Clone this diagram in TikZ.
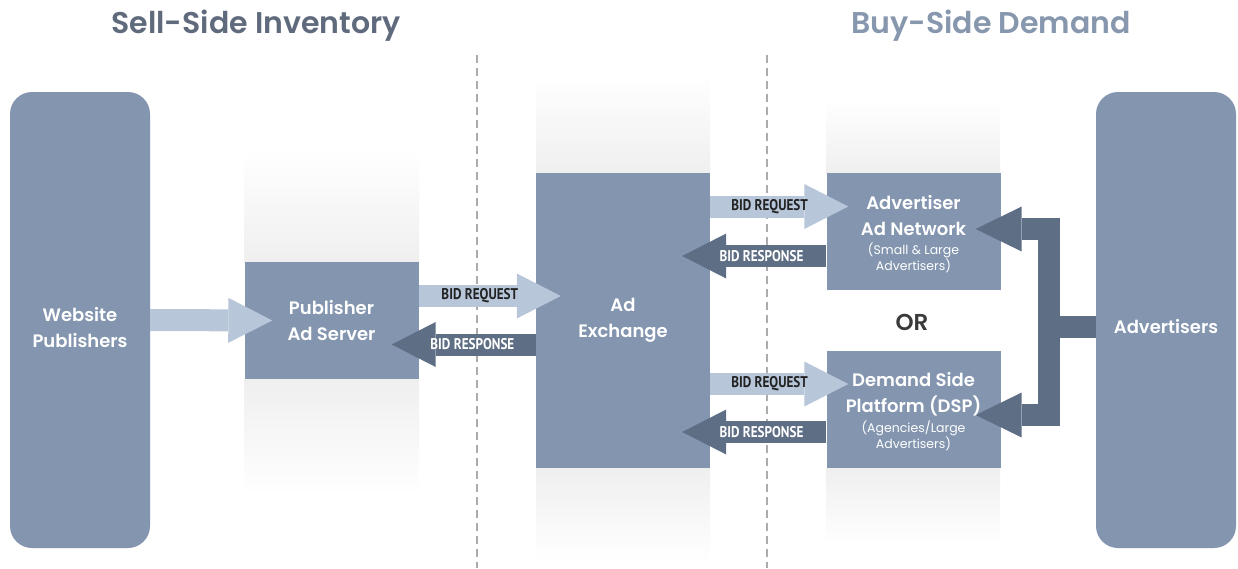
\documentclass[tikz,border=0pt]{standalone}
\usepackage{fontspec}
\setmainfont{Poppins}[BoldFont={Poppins SemiBold}]
\newfontfamily\bidfont{PT Sans}[FakeStretch=0.85]
\usetikzlibrary{arrows.meta,positioning}

\definecolor{boxblue}{HTML}{8395AF}
\definecolor{reqblue}{HTML}{B7C6D9}
\definecolor{respslate}{HTML}{5E6E84}
\definecolor{bandgray}{HTML}{EFEFEF}
\definecolor{sellgray}{HTML}{5F6B7D}
\definecolor{buyblue}{HTML}{8797AE}
\definecolor{dashgray}{HTML}{ABABAB}
\definecolor{bidtext}{HTML}{222222}
\definecolor{ortext}{HTML}{3A3A3A}

\tikzset{
    endbox/.style={fill=boxblue, rounded corners=22pt, minimum width=140pt, minimum height=456pt},
    midbox/.style={fill=boxblue, minimum width=174pt, minimum height=117pt, inner sep=0pt,
        text=white, align=center, font=\bfseries\fontsize{18}{26}\selectfont},
    boxtext/.style={text=white, align=center, font=\bfseries\fontsize{18}{26}\selectfont},
    subtext/.style={text=white, align=center, font=\fontsize{12.5}{15.5}\selectfont},
    headtext/.style={font=\bfseries\fontsize{30}{30}\selectfont},
    ortext/.style={text=ortext, font=\bfseries\fontsize{23}{23}\selectfont},
    divider/.style={draw=dashgray, line width=1.8pt, dash pattern=on 8pt off 5pt},
    reqarrow/.style={draw=reqblue, line width=22pt, -{Triangle[length=44pt, width=45pt, line width=0pt]}},
    resparrow/.style={draw=respslate, line width=22pt, -{Triangle[length=44pt, width=45pt, line width=0pt]}},
    forkarrow/.style={draw=respslate, line width=22pt, line join=miter},
    bidreq/.style={text=bidtext, font=\bidfont\bfseries\fontsize{15.5}{15.5}\selectfont},
    bidresp/.style={text=white, font=\bidfont\bfseries\fontsize{15.5}{15.5}\selectfont}
}

\begin{document}
\begin{tikzpicture}[x=1pt,y=-1pt]
    \useasboundingbox (0,0) rectangle (1238,568);

    % grey bands behind the columns
    \shade[top color=white, bottom color=bandgray] (244,150) rectangle (419,262);
    \shade[top color=bandgray, bottom color=white] (244,379) rectangle (419,495);
    \shade[top color=white, bottom color=bandgray] (536,75) rectangle (710,173);
    \shade[top color=bandgray, bottom color=white] (536,468) rectangle (710,562);
    \shade[top color=white, bottom color=bandgray] (826,100) rectangle (1000,173);
    \shade[top color=bandgray, bottom color=white] (826,468) rectangle (1000,545);

    \draw[divider] (477,55) -- (477,568);
    \draw[divider] (767,55) -- (767,568);

    \node[headtext, text=sellgray] (sell) at (256,26) {Sell-Side Inventory};
    \node[headtext, text=buyblue] (buy) at (991,26) {Buy-Side Demand};

    \node[endbox] (web) at (80,320) {};
    \node[endbox] (adv) at (1166,320) {};
    \node[midbox] (pas) at (331.5,320.5) {Publisher\\Ad Server};
    \node[midbox, minimum height=295pt] (adx) at (623,320.5) {Ad\\Exchange};
    \node[midbox] (adn) at (913.5,231.5) {};
    \node[midbox] (dsp) at (913.5,409.5) {};

    % sell side
    \draw[reqarrow] (web.east) -- ([xshift=28pt]pas.west);
    \draw[reqarrow] ([yshift=24.5pt]pas.east) -- ([xshift=25pt,yshift=24.5pt]adx.west)
        node[bidreq, pos=0.43] {BID REQUEST};
    \draw[resparrow] ([yshift=-24pt]adx.west) -- ([xshift=-27pt,yshift=-24pt]pas.east)
        node[bidresp, pos=0.44] {BID RESPONSE};

    % buy side
    \draw[reqarrow] ([yshift=114pt]adx.east) -- ([xshift=22pt,yshift=25pt]adn.west)
        node[bidreq, pos=0.43] {BID REQUEST};
    \draw[resparrow] ([yshift=-24.5pt]adn.west) -- ([xshift=-28pt,yshift=64.5pt]adx.east)
        node[bidresp, pos=0.45] {BID RESPONSE};
    \draw[reqarrow] ([yshift=-63.5pt]adx.east) -- ([xshift=22pt,yshift=25.5pt]dsp.west)
        node[bidreq, pos=0.43] {BID REQUEST};
    \draw[resparrow] ([yshift=-22.5pt]dsp.west) -- ([xshift=-28pt,yshift=-111.5pt]adx.east)
        node[bidresp, pos=0.45] {BID RESPONSE};

    % advertisers fork
    \coordinate (fork) at (1049,327);
    \draw[forkarrow] ([yshift=-7pt]adv.west) -- (fork);
    \draw[forkarrow, -{Triangle[length=46pt, width=45pt, line width=0pt]}]
        (fork) |- ([xshift=-25pt,yshift=2.5pt]adn.east);
    \draw[forkarrow, -{Triangle[length=46pt, width=45pt, line width=0pt]}]
        (fork) |- ([xshift=-25pt,yshift=-5.5pt]dsp.east);

    \node[boxtext] (webtxt) at (80,328) {Website\\Publishers};
    \node[boxtext] (advtxt) at (1166,327) {Advertisers};
    \node[boxtext] (adntxt) at (913.5,216) {Advertiser\\Ad Network};
    \node[subtext] (adnsub) at (913.5,258) {(Small \& Large\\Advertisers)};
    \node[boxtext] (dsptxt) at (913.5,394) {Demand Side\\Platform (DSP)};
    \node[subtext] (dspsub) at (913.5,436) {(Agencies/Large\\Advertisers)};
    \node[ortext] (or) at (912,322) {OR};
\end{tikzpicture}
\end{document}
